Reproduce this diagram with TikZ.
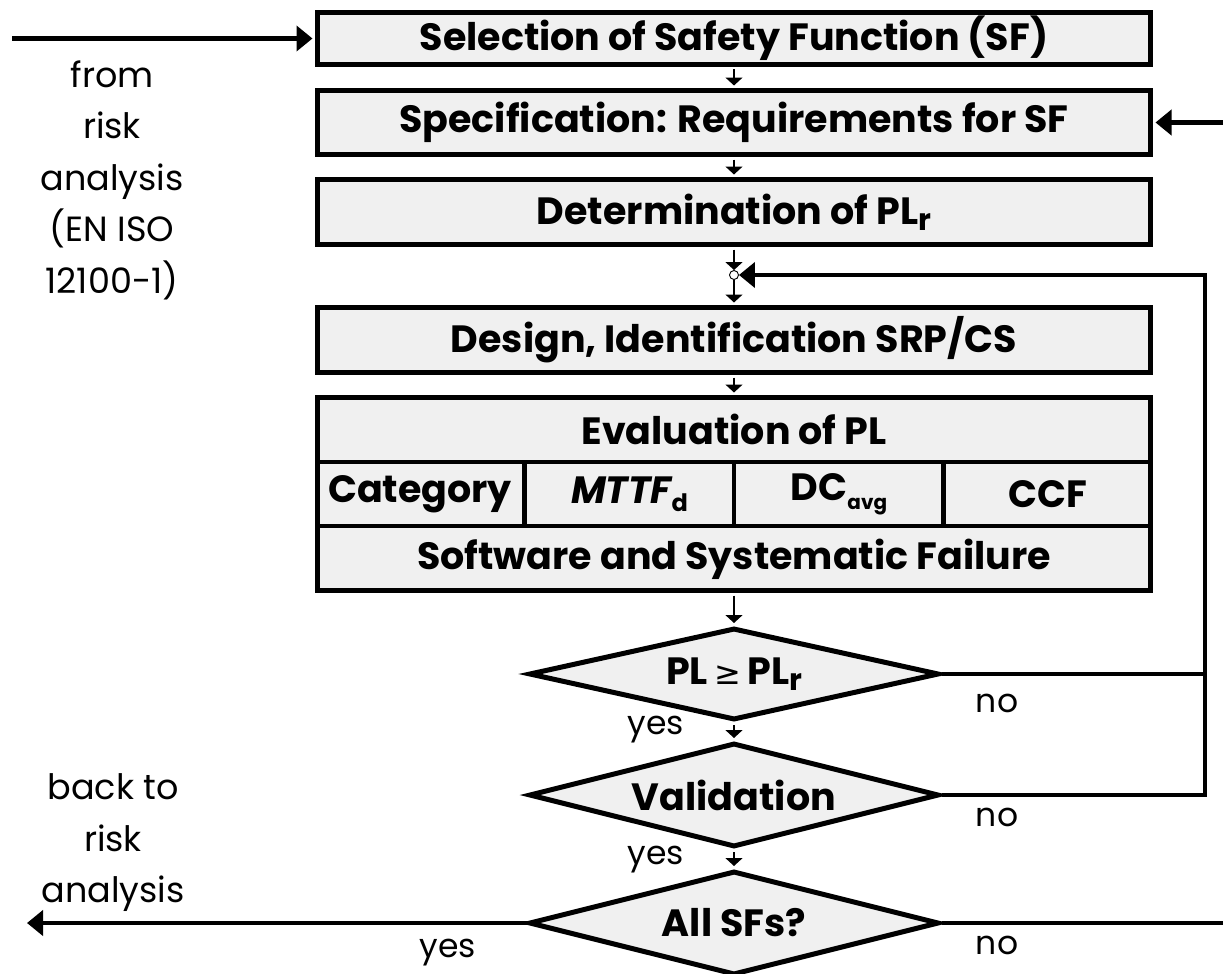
\documentclass[tikz,border=0pt]{standalone}
\usepackage{fontspec}
\setmainfont{Poppins}
\newfontfamily\symfont{DejaVu Sans}
\usetikzlibrary{arrows.meta,shapes.geometric,calc}
\definecolor{boxfill}{gray}{0.94}
% lowered index letters inside the large bold labels
\newcommand\lowidx[3]{\raisebox{-#1}{\fontsize{#2}{#2}\selectfont #3}}
\begin{document}
\begin{tikzpicture}[x=1pt,y=-1pt,
  boxtext/.style={font=\bfseries\fontsize{38}{44}\selectfont},
  stepbox/.style={draw, line width=5pt, fill=boxfill, minimum width=833pt,
    inner sep=0pt, boxtext},
  cell/.style={inner sep=0pt, boxtext},
  decision/.style={diamond, aspect=4.3, draw, line width=5pt, fill=boxfill,
    minimum width=410pt, inner sep=0pt, boxtext},
  note/.style={inner sep=0pt, align=center, font=\fontsize{35}{51.5}\selectfont},
  lbl/.style={inner sep=0pt, font=\fontsize{33}{40}\selectfont},
  small/.style={line width=1.6pt, -{Triangle[length=8pt,width=17pt]},
    shorten <=2.5pt, shorten >=2.5pt},
  big/.style={line width=4.5pt, -{Triangle[length=16pt,width=25pt]}},
  loop/.style={line width=4.5pt}]
\useasboundingbox (0,0) rectangle (1223,974);

% main column of steps
\node[stepbox, minimum height=52pt] (sel)  at (734,38.5) {Selection of Safety Function (SF)};
\node[stepbox, minimum height=64pt] (spec) at (734,122.5) {Specification: Requirements for SF};
\node[stepbox, minimum height=65pt] (det)  at (734,212) {Determination of PL\lowidx{6pt}{30}{r}};
\node[circle, draw, line width=0.9pt, fill=white, minimum size=9pt, inner sep=0pt] (junc) at (734,275) {};
\node[stepbox, minimum height=65pt] (des)  at (734,340) {Design, Identification SRP/CS};

% evaluation block with its sub-fields
\node[stepbox, minimum height=193pt] (eval) at (734,494) {};
\draw[line width=4.5pt] (eval.west |- 0,462) -- (eval.east |- 0,462);
\draw[line width=4.5pt] (eval.west |- 0,526) -- (eval.east |- 0,526);
\foreach \xd in {524.5,734,943.5}
  \draw[line width=4.5pt] (\xd,462) -- (\xd,526);
\node[cell] (evtitle) at (734,429) {Evaluation of PL};
\node[cell] (cat)  at (420,494) {Category};
\node[cell] (mttf) at (629.5,494) {\itshape MTTF\upshape\lowidx{8pt}{24}{d}};
\node[cell] (dc)   at (839,494) {DC\lowidx{9pt}{20}{avg}};
\node[cell] (ccf)  at (1048,494) {CCF};
\node[cell] (soft) at (734,559.5) {Software and Systematic Failure};

% decisions
\node[decision, minimum height=92pt]  (d1) at (734,674) {PL\,{\symfont\mdseries\fontsize{32}{32}\selectfont ≥}\,PL\lowidx{6pt}{30}{r}};
\node[decision, minimum height=104pt] (d2) at (734,795) {Validation};
\node[decision, minimum height=104pt] (d3) at (734,923) {All SFs?};

% flow between the steps
\draw[small] (sel) -- (spec);
\draw[small] (spec) -- (det);
\draw[small, shorten >=0pt] (det) -- (junc);
\draw[small, shorten <=0pt] (junc) -- (des);
\draw[small] (des) -- (eval);
\draw[small] (eval) -- (d1);
\draw[small] (d1) -- (d2);
\draw[small] (d2) -- (d3);

% external inputs and outputs
\coordinate (src) at (12,38.5);
\coordinate (fromright) at (1223,122.5);
\coordinate (loopc) at (1205,275);
\coordinate (outR) at (1223,923);
\coordinate (backL) at (27,923);
\draw[big, shorten >=2.5pt] (src) -- (src -| sel.west);
\draw[big, shorten >=2.5pt] (fromright) -- (fromright -| spec.east);
\draw[loop] (d1.east) -- (d1.east -| loopc);
\draw[big] (d2.east) -- (d2.east -| loopc) -- (loopc) -- (junc.east);
\draw[loop] (d3.east) -- (outR);
\draw[big] (d3.west) -- (backL);

% texts beside the flow
\node[note] (fromtxt) at (112,180) {from\\risk\\analysis\\(EN ISO\\12100-1)};
\node[note] (backtxt) at (113,843) {back to\\risk\\analysis};
\node[lbl] (yes1) at (656,730) {yes};
\node[lbl] (no1)  at (997,703) {no};
\node[lbl] (yes2) at (656,860) {yes};
\node[lbl] (no2)  at (997,817) {no};
\node[lbl] (yes3) at (448,953) {yes};
\node[lbl] (no3)  at (997,945) {no};
\end{tikzpicture}
\end{document}
